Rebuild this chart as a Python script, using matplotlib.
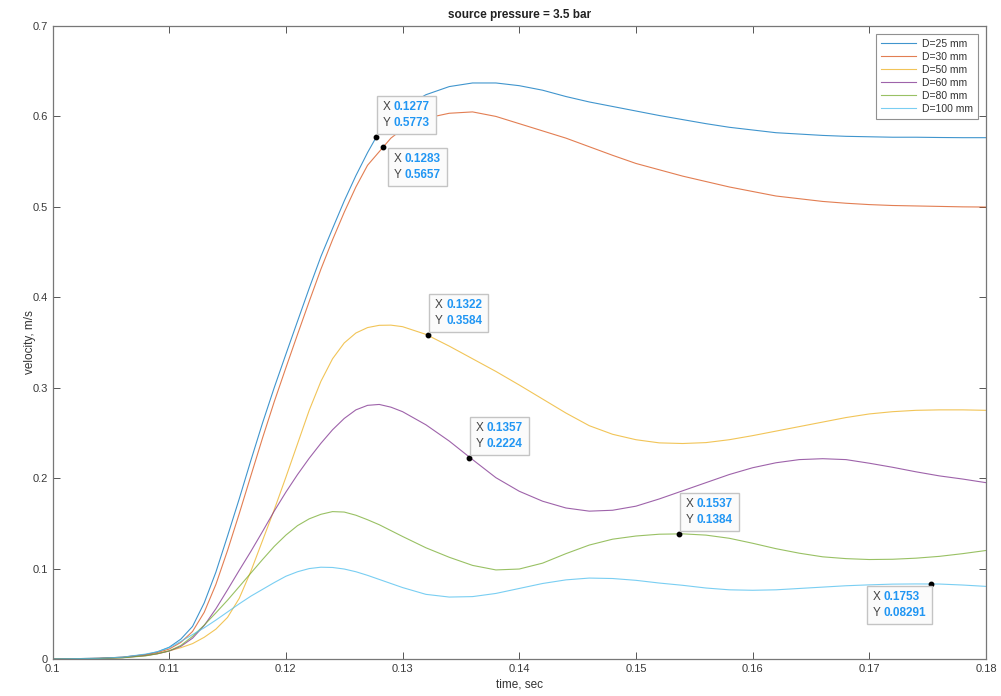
import matplotlib
matplotlib.use("Agg")
import matplotlib.pyplot as plt
from matplotlib.transforms import IdentityTransform
from matplotlib.patches import Rectangle

plt.rcParams['font.family'] = ['Liberation Sans', 'DejaVu Sans']

# ---------------- data ----------------
time = [0.100, 0.104, 0.106, 0.108, 0.109, 0.110, 0.111, 0.112, 0.113, 0.114,
        0.115, 0.116, 0.117, 0.118, 0.119, 0.120, 0.121, 0.122, 0.123, 0.124,
        0.125, 0.126, 0.127, 0.128, 0.129, 0.130, 0.132, 0.134, 0.136, 0.138,
        0.140, 0.142, 0.144, 0.146, 0.148, 0.150, 0.152, 0.154, 0.156, 0.158,
        0.160, 0.162, 0.164, 0.166, 0.168, 0.170, 0.172, 0.174, 0.176, 0.178,
        0.180]

v_d25 = [0.000, 0.0008, 0.002, 0.005, 0.008, 0.013, 0.022, 0.036, 0.062, 0.096,
         0.136, 0.177, 0.2196, 0.261, 0.300, 0.337, 0.3736, 0.410, 0.445, 0.476,
         0.5065, 0.5345, 0.560, 0.583, 0.598, 0.609, 0.624, 0.633, 0.637, 0.637,
         0.634, 0.629, 0.622, 0.616, 0.611, 0.606, 0.601, 0.5965, 0.592, 0.588,
         0.585, 0.582, 0.5805, 0.579, 0.578, 0.5775, 0.577, 0.577, 0.5767, 0.5765,
         0.5765]

v_d30 = [0.000, 0.0008, 0.002, 0.0048, 0.0072, 0.011, 0.0184, 0.0304, 0.0516, 0.0824,
         0.120, 0.1606, 0.2026, 0.2444, 0.2844, 0.322, 0.359, 0.3954, 0.431, 0.4636,
         0.494, 0.522, 0.546, 0.561, 0.576, 0.586, 0.598, 0.6035, 0.605, 0.600,
         0.592, 0.584, 0.576, 0.5665, 0.557, 0.548, 0.541, 0.534, 0.528, 0.522,
         0.517, 0.512, 0.509, 0.506, 0.504, 0.5025, 0.5015, 0.501, 0.5005, 0.500,
         0.4998]

v_d50 = [0.000, 0.0006, 0.0015, 0.004, 0.006, 0.009, 0.0125, 0.017, 0.024, 0.033,
         0.046, 0.067, 0.097, 0.131, 0.165, 0.201, 0.238, 0.275, 0.307, 0.332,
         0.3495, 0.3605, 0.3665, 0.369, 0.3692, 0.3675, 0.359, 0.346, 0.332, 0.318,
         0.303, 0.2875, 0.272, 0.258, 0.2485, 0.2425, 0.239, 0.2383, 0.2393, 0.2425,
         0.247, 0.252, 0.257, 0.262, 0.267, 0.271, 0.2735, 0.275, 0.2755, 0.2755,
         0.275]

v_d60 = [0.000, 0.0006, 0.0015, 0.0038, 0.0058, 0.0088, 0.0140, 0.023, 0.037, 0.0555,
         0.0765, 0.098, 0.119, 0.141, 0.1635, 0.1845, 0.204, 0.222, 0.2385, 0.2535,
         0.266, 0.2755, 0.2805, 0.2815, 0.2785, 0.2735, 0.259, 0.241, 0.2205, 0.2005,
         0.1855, 0.1745, 0.167, 0.1635, 0.1645, 0.169, 0.177, 0.186, 0.195, 0.204,
         0.2115, 0.217, 0.2205, 0.2215, 0.2205, 0.2165, 0.212, 0.207, 0.2025, 0.199,
         0.195]

v_d80 = [0.000, 0.0005, 0.0013, 0.0035, 0.0058, 0.009, 0.015, 0.025, 0.0375, 0.051,
         0.065, 0.080, 0.095, 0.110, 0.1245, 0.137, 0.1475, 0.155, 0.160, 0.163,
         0.1625, 0.159, 0.154, 0.1485, 0.142, 0.1355, 0.123, 0.1125, 0.1035, 0.0985,
         0.0995, 0.106, 0.1165, 0.126, 0.1325, 0.136, 0.138, 0.1384, 0.137, 0.1335,
         0.128, 0.122, 0.117, 0.113, 0.111, 0.110, 0.1103, 0.1115, 0.1135, 0.1165,
         0.120]

v_d100 = [0.000, 0.0008, 0.002, 0.0055, 0.008, 0.0125, 0.0195, 0.027, 0.0345, 0.043,
          0.052, 0.061, 0.0695, 0.077, 0.0845, 0.0915, 0.0965, 0.100, 0.1015, 0.1012,
          0.0995, 0.0965, 0.0925, 0.088, 0.0835, 0.079, 0.0715, 0.0685, 0.069, 0.0725,
          0.078, 0.0835, 0.0875, 0.0895, 0.089, 0.087, 0.084, 0.0815, 0.0785, 0.0765,
          0.076, 0.0765, 0.078, 0.0795, 0.081, 0.082, 0.0828, 0.083, 0.0829, 0.0818,
          0.0803]

series_labels = ['D=25 mm', 'D=30 mm', 'D=50 mm', 'D=60 mm', 'D=80 mm', 'D=100 mm']
series_values = [v_d25, v_d30, v_d50, v_d60, v_d80, v_d100]
colors = ['#0072BD', '#D95319', '#EDB120', '#7E2F8E', '#77AC30', '#4DBEEE']

tip_x = [0.1277, 0.1283, 0.1322, 0.1357, 0.1537, 0.1753]
tip_y = [0.5773, 0.5657, 0.3584, 0.2224, 0.1384, 0.08291]
tip_side = ['ur', 'dr', 'ur', 'ur', 'ur', 'dl']

x_ticks = [0.10, 0.11, 0.12, 0.13, 0.14, 0.15, 0.16, 0.17, 0.18]
x_ticklabels = ['0.1', '0.11', '0.12', '0.13', '0.14', '0.15', '0.16', '0.17', '0.18']
y_ticks = [0, 0.1, 0.2, 0.3, 0.4, 0.5, 0.6, 0.7]
y_ticklabels = ['0', '0.1', '0.2', '0.3', '0.4', '0.5', '0.6', '0.7']

# ---------------- figure ----------------
W_PX, H_PX = 1001, 696
fig = plt.figure(figsize=(W_PX / 100, H_PX / 100), dpi=100)
ax = fig.add_axes([52.5 / W_PX, 1 - 659 / H_PX, (986 - 52.5) / W_PX, (659 - 26) / H_PX])

for vals, lab, c in zip(series_values, series_labels, colors):
    ax.plot(time, vals, color=c, lw=0.8, alpha=0.75, label=lab)

ax.set_xlim(0.1, 0.18)
ax.set_ylim(0, 0.7)
ax.set_xticks(x_ticks)
ax.set_xticklabels(x_ticklabels)
ax.set_yticks(y_ticks)
ax.set_yticklabels(y_ticklabels)
ax.tick_params(direction='in', length=5, width=0.7, colors='#555555',
               labelcolor='#3a3a3a', labelsize=8, top=True, right=True)
for s in ax.spines.values():
    s.set_color('#777777')
    s.set_linewidth(0.9)

ax.set_xlabel('time, sec', fontsize=8.5, color='#333333', labelpad=3)
ax.set_ylabel('velocity, m/s', fontsize=8.5, color='#333333', labelpad=-3)
ax.set_title('source pressure = 3.5 bar', fontsize=8.5, fontweight='bold',
             color='#222222', pad=6)

leg = ax.legend(loc='upper right', fontsize=7.5, frameon=True, fancybox=False,
                edgecolor='#909090', framealpha=1, labelspacing=0.3,
                handlelength=3.4, handletextpad=0.6, borderpad=0.45,
                borderaxespad=0.75)
leg.get_frame().set_linewidth(0.8)
for t in leg.get_texts():
    t.set_color('#333333')

# data tip markers
ax.plot(tip_x, tip_y, 'o', ls='none', ms=3.2, color='k', zorder=6)

# ---------------- data tips ----------------
fig.canvas.draw()
renderer = fig.canvas.get_renderer()
ident = IdentityTransform()
pad_h, pad_v, gap = 6, 5, 3
for x, y, side in zip(tip_x, tip_y, tip_side):
    px, py = ax.transData.transform((x, y))
    lab = fig.text(0, 0, 'X\nY', transform=ident, ha='left', va='bottom',
                   fontsize=8.5, color='#444444', linespacing=1.45, zorder=11)
    val = fig.text(0, 0, f'{x:g}\n{y:g}', transform=ident, ha='left', va='bottom',
                   fontsize=8.5, fontweight='bold', color='#2196f3',
                   linespacing=1.45, zorder=11)
    wl = lab.get_window_extent(renderer).width
    bv = val.get_window_extent(renderer)
    W = pad_h + wl + gap + bv.width + pad_h
    H = pad_v + bv.height + pad_v
    if side == 'ur':
        bx, by = px + 1, py + 3
    elif side == 'dr':
        bx, by = px + 5, py - 1 - H
    else:
        bx, by = px + 1 - W, py - 2 - H
    lab.set_position((bx + pad_h, by + pad_v))
    val.set_position((bx + pad_h + wl + gap, by + pad_v))
    rect = Rectangle((bx, by), W, H, transform=ident, facecolor='#fbfbfb',
                     edgecolor='#c4c4c4', lw=1.0, zorder=10)
    fig.add_artist(rect)

fig.savefig('out.png', dpi=100)
